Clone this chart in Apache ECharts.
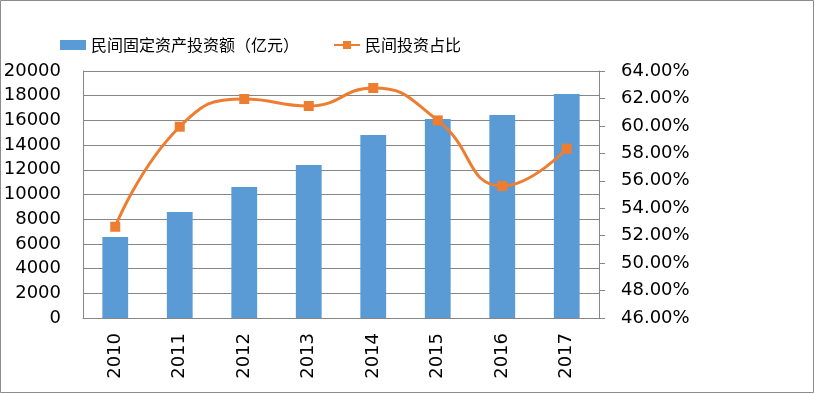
<!DOCTYPE html>
<html><head><meta charset="utf-8">
<script src="https://cdn.jsdelivr.net/npm/echarts@6/dist/echarts.min.js"></script>
<style>html,body{margin:0;padding:0;background:#fff}#c{width:815px;height:394px}</style>
</head><body><div id="c"></div>
<script>
const years = ['2010','2011','2012','2013','2014','2015','2016','2017'];
const investment = [6560, 8580, 10600, 12390, 14820, 16110, 16440, 18140];
const sharePct = [52.65, 59.94, 61.96, 61.45, 62.76, 60.40, 55.62, 58.34];
const barName = '民间固定资产投资额（亿元）';
const lineName = '民间投资占比';

const chart = echarts.init(document.getElementById('c'), null, {renderer:'canvas'});
const gray = '#868686';
const font = 'DejaVu Sans';
chart.setOption({
  animation:false,
  backgroundColor:'#fff',
  graphic:[{type:'rect',shape:{x:0.5,y:0.5,width:813,height:392},style:{fill:'none',stroke:'#8c8c8c',lineWidth:1},z:-1}],
  legend:{
    left:55, top:32, itemWidth:26, itemHeight:10, itemGap:34, itemTextGap:3,
    textStyle:{fontSize:16, color:'#000', fontFamily:'Noto Sans CJK SC'},
    data:[{name:barName, icon:'rect'},{name:lineName}]
  },
  grid:{left:83, right:216, top:71, bottom:76, containLabel:false},
  xAxis:{
    type:'category', data:years,
    axisLine:{show:true, lineStyle:{color:gray}},
    axisTick:{show:false},
    axisLabel:{rotate:90, margin:15, fontSize:18, color:'#000', fontFamily:font}
  },
  yAxis:[{
    type:'value', min:0, max:20000, interval:2000,
    axisLine:{show:true, lineStyle:{color:gray}},
    axisTick:{show:false},
    splitLine:{show:true, lineStyle:{color:gray, width:1}},
    axisLabel:{margin:22, fontSize:18, color:'#000', fontFamily:font, formatter:v=>String(v)}
  },{
    type:'value', min:46, max:64, interval:2, position:'right',
    axisLine:{show:true, lineStyle:{color:gray}},
    axisTick:{show:true, length:6, inside:false, lineStyle:{color:gray}},
    splitLine:{show:false},
    axisLabel:{margin:22, fontSize:18, color:'#000', fontFamily:font,
      formatter:v=>v.toFixed(2)+'%'}
  }],
  series:[{
    name:barName, type:'bar', data:investment, barWidth:'40%',
    itemStyle:{color:'#5B9BD5'}
  },{
    name:lineName, type:'line', yAxisIndex:1, data:sharePct, smooth:0.5,
    symbol:'rect', symbolSize:10,
    lineStyle:{color:'#ED7D31', width:3},
    itemStyle:{color:'#ED7D31'}
  }]
});
</script></body></html>
